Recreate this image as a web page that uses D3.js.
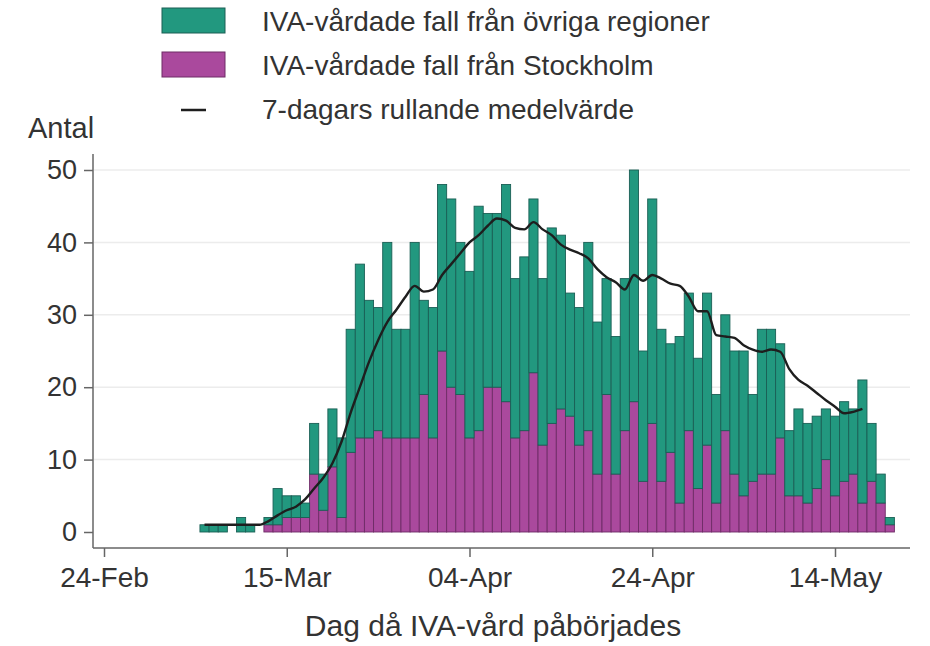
<!DOCTYPE html>
<html>
<head>
<meta charset="utf-8">
<script src="https://cdn.jsdelivr.net/npm/d3@7"></script>
<style>
  body { margin: 0; background: #fff; }
  text { font-family: "Liberation Sans", Arial, sans-serif; fill: #333; }
</style>
</head>
<body>
<div id="chart"></div>
<script>
// daily ICU cases, first bar 2020-03-06
var startDay = "2020-03-06";
var stockholm = [0,0,0,0,0,0,0,1,1,2,2,2,8,3,9,2,11,13,13,14,13,13,13,13,19,13,
  25,20,19,13,14,20,20,18,13,14,22,12,15,17,16,12,14,8,19,8,14,18,7,15,7,11,4,14,6,12,
  4,14,8,5,7,8,8,13,5,5,4,6,10,5,7,8,4,7,4,1];
var others = [1,1,1,0,2,1,0,1,5,3,3,2,7,5,8,11,17,24,19,17,27,15,15,27,13,18,
  23,26,21,23,31,24,24,30,22,24,24,23,27,24,17,19,26,21,16,19,21,32,18,31,21,15,23,19,18,21,
  15,16,17,20,12,20,20,13,9,12,11,10,7,11,11,9,17,8,4,1];
// 7-day rolling mean as drawn, same start day
var rolling = [1,1,1,1,1,1,1,1.5,2.3,3,3.5,4.5,6,7.5,9.5,12.5,16.5,20,23.5,26.5,29,30.7,32.5,34,33.2,33.5,
  35.5,37,38.5,40,41,42.3,43.3,43,42,41.8,42.8,41.8,41,39.7,39,38.5,37.8,36.3,35.2,34.5,33.5,35.5,34.7,35.5,35,34.3,34,32.5,30.5,30.5,
  27.2,27,26.8,25.8,25.2,24.9,25.2,24.9,22.5,21,20.2,19.2,18.2,17.3,16.4,16.6,17];
var yTicks = [0, 10, 20, 30, 40, 50];
var xTicks = ["2020-02-24", "2020-03-15", "2020-04-04", "2020-04-24", "2020-05-14"];
var legendLabels = ["IVA-vårdade fall från övriga regioner", "IVA-vårdade fall från Stockholm", "7-dagars rullande medelvärde"];

var W = 930, H = 646;
var colOther = "#22987f", colStk = "#aa499d";

var svg = d3.select("#chart").append("svg")
  .attr("width", W).attr("height", H);

var parse = d3.utcParse("%Y-%m-%d");
var day0 = parse(startDay);
var dates = stockholm.map(function (d, i) { return d3.utcDay.offset(day0, i); });

var x = d3.scaleUtc()
  .domain([parse("2020-02-24"), parse("2020-05-14")])
  .range([104, 835]);
var y = d3.scaleLinear().domain([0, 50]).range([532, 170]);
var dayW = x(parse("2020-03-02")) - x(parse("2020-03-01"));

// gridlines
svg.append("g").selectAll("line")
  .data(yTicks.slice(1))
  .enter().append("line")
  .attr("x1", 94).attr("x2", 910)
  .attr("y1", function (d) { return y(d); })
  .attr("y2", function (d) { return y(d); })
  .attr("stroke", "#ececec").attr("stroke-width", 1.5);

// stacked bars
var rows = dates.map(function (d, i) {
  return { date: d, stockholm: stockholm[i], others: others[i] };
});
var stack = d3.stack().keys(["stockholm", "others"])(rows);
var colors = { stockholm: colStk, others: colOther };
var strokes = { stockholm: "#6e2c66", others: "#1a5f55" };

svg.append("g").selectAll("g")
  .data(stack)
  .enter().append("g")
  .attr("fill", function (s) { return colors[s.key]; })
  .attr("stroke", function (s) { return strokes[s.key]; })
  .attr("stroke-width", 0.9)
  .selectAll("rect")
  .data(function (s) { return s.filter(function (p) { return p[1] > p[0]; }); })
  .enter().append("rect")
  .attr("x", function (p) { return x(p.data.date) - dayW / 2; })
  .attr("width", dayW)
  .attr("y", function (p) { return y(p[1]); })
  .attr("height", function (p) { return y(p[0]) - y(p[1]); });

// rolling mean line
var line = d3.line()
  .x(function (d, i) { return x(dates[i]); })
  .y(function (d) { return y(d); })
  .curve(d3.curveMonotoneX);
svg.append("path")
  .datum(rolling)
  .attr("d", line)
  .attr("fill", "none")
  .attr("stroke", "#1e1e1e")
  .attr("stroke-width", 2.4);

// y axis
var yAxis = svg.append("g")
  .attr("transform", "translate(93,0)")
  .call(d3.axisLeft(y).tickValues(yTicks).tickSize(9).tickPadding(7));
yAxis.select(".domain").attr("d", "M0,154V548").attr("stroke", "#666").attr("stroke-width", 1.5);
yAxis.selectAll(".tick line").attr("stroke", "#666").attr("stroke-width", 1.5);
yAxis.selectAll("text").style("font-size", "27px").attr("fill", "#333");

// x axis
var xAxis = svg.append("g")
  .attr("transform", "translate(0,548)")
  .call(d3.axisBottom(x).tickValues(xTicks.map(parse))
    .tickFormat(d3.utcFormat("%d-%b")).tickSize(9).tickPadding(10));
xAxis.select(".domain").attr("d", "M93,0H910").attr("stroke", "#666").attr("stroke-width", 1.5);
xAxis.selectAll(".tick line").attr("stroke", "#666").attr("stroke-width", 1.5);
xAxis.selectAll("text").style("font-size", "28px").attr("fill", "#333");

// axis titles
svg.append("text")
  .attr("x", 28).attr("y", 138)
  .style("font-size", "29px")
  .text("Antal");
svg.append("text")
  .attr("x", 493).attr("y", 636)
  .attr("text-anchor", "middle")
  .style("font-size", "30px")
  .text("Dag då IVA-vård påbörjades");

// legend
var legend = svg.append("g");
legend.append("rect").attr("x", 162).attr("y", 8).attr("width", 63).attr("height", 25)
  .attr("fill", colOther).attr("stroke", strokes.others);
legend.append("rect").attr("x", 162).attr("y", 52).attr("width", 63).attr("height", 25)
  .attr("fill", colStk).attr("stroke", strokes.stockholm);
legend.append("line").attr("x1", 181).attr("x2", 206).attr("y1", 110).attr("y2", 110)
  .attr("stroke", "#1e1e1e").attr("stroke-width", 2.5);
legend.selectAll("text")
  .data(legendLabels)
  .enter().append("text")
  .attr("x", 262)
  .attr("y", function (d, i) { return 21 + i * 44; })
  .attr("dy", "0.35em")
  .style("font-size", "28px")
  .text(function (d) { return d; });
</script>
</body>
</html>
